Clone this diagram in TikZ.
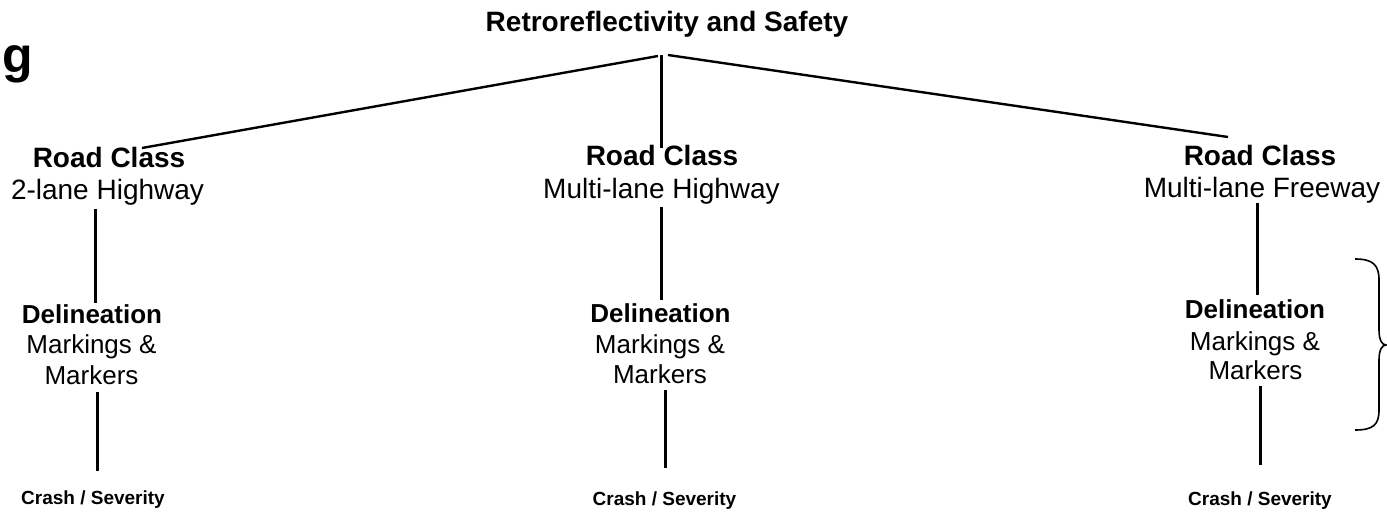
\documentclass[tikz,border=0pt]{standalone}
\usepackage{fontspec}
\setmainfont{Liberation Sans}
\begin{document}
\begin{tikzpicture}[x=1pt,y=-1pt,
  txt/.style={inner sep=0pt,anchor=base},
  big/.style={txt,font=\fontsize{28}{33}\selectfont},
  bigb/.style={txt,font=\fontsize{28}{33}\selectfont\bfseries},
  mid/.style={txt,font=\fontsize{26}{31}\selectfont},
  midb/.style={txt,font=\fontsize{26}{31}\selectfont\bfseries},
  small/.style={txt,font=\fontsize{19}{22}\selectfont\bfseries},
  diag/.style={line width=2.4pt},
  vert/.style={line width=3pt},
  brace/.style={line width=1.6pt}]
\useasboundingbox (0,0) rectangle (1387,513);
% title and stray letter
\node[bigb] (title) at (667,32) {Retroreflectivity and Safety};
\node[txt,anchor=base west,font=\fontsize{50}{56}\selectfont\bfseries] (g) at (2,73) {g};
% column 1
\node[bigb] (rc1) at (109,168) {Road Class};
\node[big] (rt1) at (107.5,200) {2-lane Highway};
\node[midb] (d1) at (92,323) {Delineation};
\node[mid] (m1) at (91.5,353) {Markings \&};
\node[mid] (k1) at (91.5,384) {Markers};
\node[small] (c1) at (93,504) {Crash / Severity};
% column 2
\node[bigb] (rc2) at (662,166) {Road Class};
\node[big] (rt2) at (661.5,199) {Multi-lane Highway};
\node[midb] (d2) at (660.5,322) {Delineation};
\node[mid] (m2) at (660,353) {Markings \&};
\node[mid] (k2) at (660,383) {Markers};
\node[small] (c2) at (664.5,505) {Crash / Severity};
% column 3
\node[bigb] (rc3) at (1260,166) {Road Class};
\node[big] (rt3) at (1262,198) {Multi-lane Freeway};
\node[midb] (d3) at (1255,318) {Delineation};
\node[mid] (m3) at (1255,350) {Markings \&};
\node[mid] (k3) at (1255.5,379) {Markers};
\node[small] (c3) at (1260,505) {Crash / Severity};
% connector end points
\coordinate (apexL) at (658,56);
\coordinate (apexM) at (661,55);
\coordinate (apexR) at (668,55);
\coordinate (in1) at (142,148);
\coordinate (in2) at (661,148);
\coordinate (in3) at (1228,137);
\coordinate (u1a) at (95,209);  \coordinate (u1b) at (95,303);
\coordinate (l1a) at (97,392);  \coordinate (l1b) at (97,471);
\coordinate (u2a) at (661,207); \coordinate (u2b) at (661,300);
\coordinate (l2a) at (665,390); \coordinate (l2b) at (665,468);
\coordinate (u3a) at (1257,203); \coordinate (u3b) at (1257,295);
\coordinate (l3a) at (1260,386); \coordinate (l3b) at (1260,465);
% connectors
\draw[diag] (apexL) -- (in1);
\draw[vert] (apexM) -- (in2);
\draw[diag] (apexR) -- (in3);
\draw[vert] (u1a) -- (u1b);
\draw[vert] (l1a) -- (l1b);
\draw[vert] (u2a) -- (u2b);
\draw[vert] (l2a) -- (l2b);
\draw[vert] (u3a) -- (u3b);
\draw[vert] (l3a) -- (l3b);
% brace
\draw[brace] (1355,259) .. controls (1373,259) and (1379,265) .. (1379,280)
  -- (1379,330) .. controls (1379,340) and (1382,345) .. (1386,345)
  .. controls (1382,345) and (1379,350) .. (1379,360)
  -- (1379,410) .. controls (1379,425) and (1373,430) .. (1355,430);
\end{tikzpicture}
\end{document}
